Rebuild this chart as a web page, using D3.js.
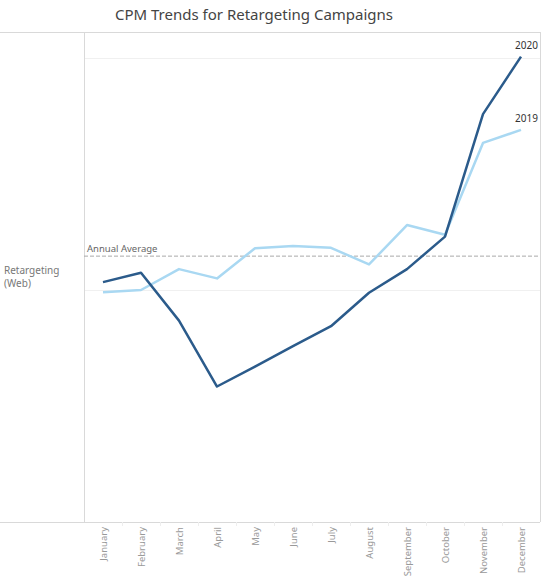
<!DOCTYPE html>
<html>
<head>
<meta charset="utf-8">
<script src="https://cdn.jsdelivr.net/npm/d3@7"></script>
<style>
  body { margin: 0; background: #fff; }
  svg text { font-family: "Noto Sans", sans-serif; }
</style>
</head>
<body>
<div id="chart"></div>
<script>
const months = ["January", "February", "March", "April", "May", "June", "July",
                "August", "September", "October", "November", "December"];
const cpm2020 = [5.17, 5.37, 4.34, 2.92, 3.35, 3.79, 4.22, 4.94, 5.45, 6.15, 8.79, 10.03];
const cpm2019 = [4.95, 5.00, 5.45, 5.25, 5.90, 5.95, 5.91, 5.55, 6.40, 6.19, 8.17, 8.45];
const annualAverage = 5.73;
const yTicks = [0, 5, 10];
const rowLabel = ["Retargeting", "(Web)"];

const W = 545, H = 585;
const pane = { left: 84, right: 540, top: 32, bottom: 522 };

const svg = d3.select("#chart").append("svg")
    .attr("width", W)
    .attr("height", H);

const x = d3.scaleBand()
    .domain(months)
    .range([pane.left, pane.right]);

const y = d3.scaleLinear()
    .domain([0, 10])
    .range([pane.bottom, 58]);

// title
svg.append("text")
    .attr("x", 254)
    .attr("y", 20)
    .attr("text-anchor", "middle")
    .attr("font-size", 15)
    .attr("fill", "#444")
    .text("CPM Trends for Retargeting Campaigns");

// gridlines
svg.append("g")
    .selectAll("line")
    .data(yTicks)
    .enter().append("line")
    .attr("x1", pane.left)
    .attr("x2", pane.right)
    .attr("y1", d => y(d) + 0.5)
    .attr("y2", d => y(d) + 0.5)
    .attr("stroke", "#f0f0f0");

// pane borders
const border = svg.append("g").attr("stroke", "#d9d9d9").attr("fill", "none");
border.append("line").attr("x1", 0).attr("x2", pane.right).attr("y1", pane.top + 0.5).attr("y2", pane.top + 0.5);
border.append("line").attr("x1", 0).attr("x2", pane.right).attr("y1", pane.bottom + 0.5).attr("y2", pane.bottom + 0.5);
border.append("line").attr("x1", pane.left + 0.5).attr("x2", pane.left + 0.5).attr("y1", pane.top).attr("y2", pane.bottom);
border.append("line").attr("x1", pane.right + 0.5).attr("x2", pane.right + 0.5).attr("y1", pane.top).attr("y2", pane.bottom);

// month axis
const xAxis = svg.append("g")
    .attr("transform", `translate(0,${pane.bottom})`);

xAxis.selectAll(".sep")
    .data(months.slice(1))
    .enter().append("line")
    .attr("class", "sep")
    .attr("x1", d => x(d) + 0.5)
    .attr("x2", d => x(d) + 0.5)
    .attr("y1", 0)
    .attr("y2", 4)
    .attr("stroke", "#eee");

xAxis.selectAll(".month")
    .data(months)
    .enter().append("text")
    .attr("class", "month")
    .attr("transform", d => `translate(${x(d) + x.bandwidth() / 2 + 3.5},5) rotate(-90)`)
    .attr("text-anchor", "end")
    .attr("font-size", 9.5)
    .attr("fill", "#999")
    .text(d => d);

// row label
svg.append("text")
    .attr("x", 4)
    .attr("y", 274)
    .attr("font-size", 10)
    .attr("fill", "#777")
    .selectAll("tspan")
    .data(rowLabel)
    .enter().append("tspan")
    .attr("x", 4)
    .attr("dy", (d, i) => i ? 13 : 0)
    .text(d => d);

// annual average reference line
svg.append("line")
    .attr("x1", pane.left)
    .attr("x2", pane.right)
    .attr("y1", y(annualAverage))
    .attr("y2", y(annualAverage))
    .attr("stroke", "#aaa")
    .attr("stroke-dasharray", "4,2");

svg.append("text")
    .attr("x", pane.left + 3)
    .attr("y", y(annualAverage) - 4)
    .attr("font-size", 9.5)
    .attr("fill", "#666")
    .text("Annual Average");

// lines
const line = d3.line()
    .x((d, i) => x(months[i]) + x.bandwidth() / 2)
    .y(d => y(d));

const series = [
    { name: "2019", values: cpm2019, color: "#a9d8f2" },
    { name: "2020", values: cpm2020, color: "#2b5b8b" }
];

svg.selectAll(".series")
    .data(series)
    .enter().append("path")
    .attr("class", "series")
    .attr("d", d => line(d.values))
    .attr("fill", "none")
    .attr("stroke", d => d.color)
    .attr("stroke-width", 2.5)
    .attr("stroke-linejoin", "round");

svg.selectAll(".label")
    .data(series)
    .enter().append("text")
    .attr("class", "label")
    .attr("x", x(months[11]) + x.bandwidth() / 2 + 17)
    .attr("y", d => y(d.values[11]) - 8)
    .attr("text-anchor", "end")
    .attr("font-size", 10)
    .attr("fill", "#333")
    .text(d => d.name);
</script>
</body>
</html>
